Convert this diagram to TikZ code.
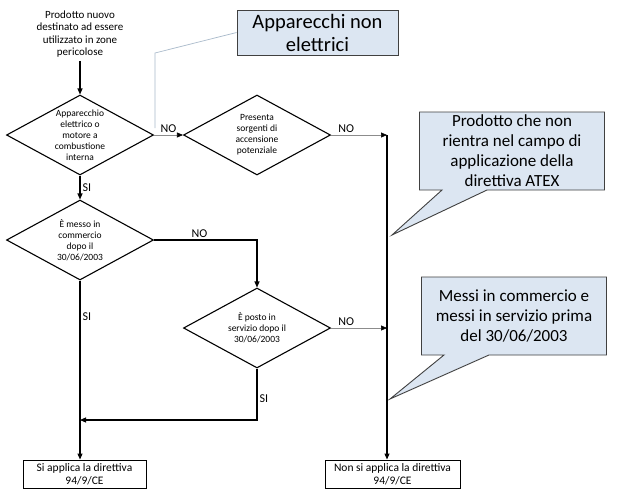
\documentclass[tikz,border=0pt]{standalone}
\usepackage{fontspec}
\setmainfont{Carlito}
\usetikzlibrary{shapes.geometric,shapes.callouts,arrows.meta}
\definecolor{notefill}{HTML}{DCE6F2}
\definecolor{noteline}{HTML}{A9BACB}

\begin{document}
\begin{tikzpicture}[x=1pt,y=-1pt,
    decision/.style={diamond,draw,line width=1.1pt,minimum width=147pt,minimum height=80pt,inner sep=0pt},
    dtext/.style={font=\fontsize{9.5}{11}\selectfont,align=center,inner sep=0pt},
    endbox/.style={rectangle,draw,line width=1pt,minimum height=28pt,inner sep=1pt,
      font=\fontsize{11.5}{13}\selectfont,align=center},
    note/.style={rectangle callout,draw=black!75,fill=notefill,line width=0.9pt,align=center,
      font=\fontsize{17}{20}\selectfont,callout pointer width=45pt,
      minimum width=185pt,minimum height=78pt,inner sep=2pt},
    flow/.style={line width=1.1pt,-{Triangle[length=6pt,width=5pt]}},
    side/.style={black!45,line width=0.6pt,-{Triangle[length=6pt,width=5pt,black]}},
    lbl/.style={text=black,font=\fontsize{12}{14}\selectfont,inner sep=2pt}]
  \fill[white] (0,0) rectangle (622,496);
  \useasboundingbox (0,0) rectangle (622,496);

  \node[font=\fontsize{11}{12.5}\selectfont,align=center] (start) at (80,34)
    {Prodotto nuovo\\destinato ad essere\\utilizzato in zone\\pericolose};
  \node[decision] (d1) at (80,135) {};
  \node[decision] (d2) at (257,135) {};
  \node[decision] (d3) at (80,240) {};
  \node[decision] (d4) at (257,328) {};
  \node[dtext] (d1t) at (d1) {Apparecchio\\elettrico o\\motore a\\combustione\\interna};
  \node[dtext] (d2t) at (d2) {Presenta\\sorgenti di\\accensione\\potenziale};
  \node[dtext] (d3t) at (d3) {È messo in\\commercio\\dopo il\\30/06/2003};
  \node[dtext] (d4t) at (d4) {È posto in\\servizio dopo il\\30/06/2003};
  \node[endbox,minimum width=123pt] (b1) at (84.5,474) {Si applica la direttiva\\94/9/CE};
  \node[endbox,minimum width=135pt] (b2) at (392.5,474) {Non si applica la direttiva\\94/9/CE};

  \coordinate (j1) at (387,135);
  \coordinate (j2) at (387,328);
  \coordinate (j3) at (80,420);
  \coordinate (t1) at (392,235);
  \coordinate (t2) at (390,399);
  \coordinate (p1) at (155,53);
  \coordinate (p2) at (155,128);

  % callouts
  \node[rectangle,draw=black!75,fill=notefill,line width=0.9pt,minimum width=161pt,minimum height=45pt,
    inner sep=1pt,align=center,font=\fontsize{20.5}{23}\selectfont] (c1) at (317.5,32.5)
    {Apparecchi non\\elettrici};
  \draw[noteline,line width=0.7pt] (c1.west) -- (p1) -- (p2);
  \node[note,callout absolute pointer={(t1)}] (c2) at (512,151)
    {Prodotto che non\\rientra nel campo di\\applicazione della\\direttiva ATEX};
  \node[note,callout absolute pointer={(t2)}] (c3) at (514,316)
    {Messi in commercio e\\messi in servizio prima\\del 30/06/2003};

  % connectors
  \draw[flow] (start) -- (d1.north);
  \draw[side] (d1.east) -- node[lbl,above]{NO} (d2.west);
  \draw[side] (d2.east) -- node[lbl,above,pos=0.27]{NO} (j1);
  \draw[flow] (j1) -- (j1 |- b2.north);
  \draw[flow] (d1.south) -- node[lbl,right]{SI} (d3.north);
  \draw[flow] (d3.east) -| node[lbl,above,pos=0.22]{NO} (d4.north);
  \draw[side] (d4.east) -- node[lbl,above,pos=0.27]{NO} (j2);
  \draw[flow] (d4.south) |- node[lbl,right,pos=0.29]{SI} (j3);
  \draw[flow] (d3.south) -- node[lbl,right,pos=0.2]{SI} (d3.south |- b1.north);
\end{tikzpicture}
\end{document}
